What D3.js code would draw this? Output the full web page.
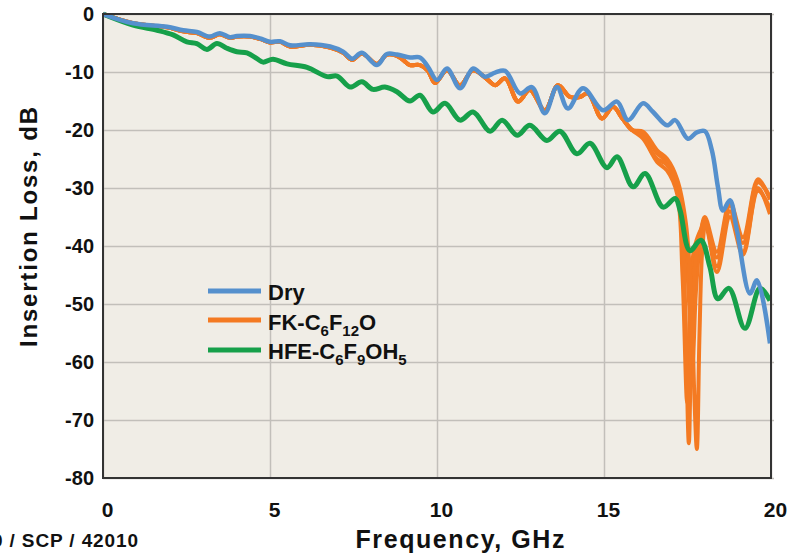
<!doctype html>
<html lang="en">
  <head>
    <meta charset="utf-8">
    <title>Insertion loss vs frequency</title>
    <script src="https://d3js.org/d3.v7.min.js"></script>
    <style>
      body { margin: 0; background: #fff; }
      text { font-family: "Liberation Sans", Arial, sans-serif; font-weight: bold; fill: #111; }
    </style>
  </head>

  <body>
    <svg width="794" height="555"></svg>

    <script>
      // data: [GHz, dB]
      var xTicks = [0, 5, 10, 15, 20];
      var yTicks = [0, -10, -20, -30, -40, -50, -60, -70, -80];

      var dry = [[0,0],[0.9,-1.6],[1.92,-2.2],[2.4,-2.8],[2.81,-3.1],[3.2,-3.9],[3.5,-3.3],[3.8,-4.0],[4.01,-3.8],
        [4.4,-3.8],[4.7,-4.2],[5.0,-4.8],[5.3,-4.7],[5.6,-5.4],[6.2,-5.2],[6.8,-5.6],[7.19,-6.5],[7.46,-7.7],
        [7.75,-6.7],[8.2,-8.8],[8.5,-6.9],[8.8,-7.0],[9.19,-7.5],[9.49,-7.5],[9.73,-9.1],[10.0,-11.4],[10.3,-9.4],
        [10.69,-12.8],[11.08,-9.4],[11.44,-10.8],[11.74,-10.1],[12.04,-9.8],[12.49,-13.7],[12.84,-12.6],[13.23,-17.1],
        [13.59,-12.6],[13.92,-16.3],[14.37,-12.8],[14.97,-16.6],[15.39,-15.1],[15.72,-18.3],[16.17,-15.4],[16.47,-16.9],
        [16.89,-19.2],[17.13,-18.3],[17.51,-21.5],[17.78,-20.4],[18.02,-20.2],[18.23,-23.5],[18.41,-29.8],[18.56,-33.9],
        [18.77,-32.1],[18.98,-37.3],[19.37,-48.2],[19.58,-45.9],[19.97,-56.8]];

      var fkBase = [[0,0],[0.9,-1.6],[1.92,-2.3],[2.4,-3.0],[2.81,-3.3],[3.2,-4.1],[3.5,-3.5],[3.8,-4.1],[4.01,-3.9],
        [4.4,-3.9],[4.7,-4.3],[5.0,-4.9],[5.3,-4.8],[5.6,-5.6],[6.2,-5.3],[6.8,-5.8],[7.19,-6.7],[7.46,-7.9],
        [7.75,-6.8],[8.2,-8.6],[8.5,-7.0],[8.8,-7.2],[9.0,-8.0],[9.19,-8.8],[9.49,-8.8],[9.73,-9.8],[9.94,-11.9],
        [10.3,-9.7],[10.69,-12.3],[11.08,-9.7],[11.53,-11.4],[11.74,-12.3],[12.04,-11.1],[12.43,-15.1],[12.78,-13.1],
        [13.23,-16.6],[13.62,-12.3],[13.98,-14.3],[14.28,-14.3],[14.52,-13.7],[14.94,-18.0],[15.27,-16.0],[15.55,-18.0],
        [15.84,-20.0]];
      var fk1 = [[16.17,-21.0],[16.4,-23.5],[16.59,-25.0],[16.89,-26.0],[17.19,-29.8],[17.35,-38],[17.45,-55],[17.54,-74],
        [17.62,-55],[17.75,-42],[17.87,-38],[18.02,-35.5],[18.38,-42.0],[18.77,-33.0],[19.16,-39.5],[19.61,-29.0],[19.97,-31.5]];
      var fk2 = [[16.17,-20.3],[16.59,-23.5],[16.89,-25.0],[17.19,-28.5],[17.45,-36],[17.62,-50],[17.7,-65],[17.78,-75],
        [17.86,-55],[17.95,-40],[18.05,-36],[18.38,-43.5],[18.77,-34.0],[19.16,-41.0],[19.61,-30.0],[19.97,-34.5]];
      var fk3 = [[16.17,-21.5],[16.59,-25.5],[16.89,-27.0],[17.19,-31.0],[17.35,-45],[17.49,-67],[17.58,-50],[17.72,-40],
        [18.02,-36.5],[18.38,-44.5],[18.77,-35.0],[19.16,-41.5],[19.61,-30.5],[19.97,-33.5]];
      var fk4 = [[16.17,-20.5],[16.59,-24.0],[16.89,-25.5],[17.19,-29.0],[17.4,-36],[17.55,-50],[17.65,-60],[17.75,-48],
        [17.9,-38],[18.02,-35.0],[18.38,-41.0],[18.77,-32.5],[19.16,-38.5],[19.61,-28.5],[19.97,-32.0]];

      var hfe = [[0,0],[0.9,-1.9],[1.62,-2.8],[2.1,-3.6],[2.51,-4.8],[2.81,-5.1],[3.11,-6.1],[3.41,-5.1],[3.71,-5.9],
        [4.01,-6.5],[4.31,-6.7],[4.61,-7.7],[4.79,-8.3],[5.09,-7.8],[5.51,-8.6],[6.11,-9.2],[6.71,-10.8],[7.01,-10.7],
        [7.4,-12.6],[7.75,-11.7],[8.08,-13.0],[8.44,-12.6],[8.8,-13.4],[9.19,-15.0],[9.49,-14.0],[9.88,-16.9],
        [10.24,-15.4],[10.69,-18.3],[11.08,-16.9],[11.59,-20.2],[11.95,-18.3],[12.4,-20.9],[12.78,-19.2],[13.29,-21.8],
        [13.68,-20.2],[14.19,-24.1],[14.58,-22.3],[15.09,-26.5],[15.39,-24.6],[15.87,-29.8],[16.23,-27.5],[16.77,-33.3],
        [17.13,-31.8],[17.28,-33.9],[17.57,-40.8],[17.9,-39.0],[18.17,-43.6],[18.41,-49.1],[18.74,-47.3],[19.22,-54.2],
        [19.67,-47.3],[19.97,-49.4]];

      var svg = d3.select('svg');
      var pLeft = 103, pRight = 771, pTop = 14, pBottom = 478;

      var x = d3.scaleLinear().domain([0, 20]).range([pLeft, pRight]);
      var y = d3.scaleLinear().domain([-80, 0]).range([pBottom, pTop]);

      svg.append('rect')
        .attr('x', pLeft).attr('y', pTop)
        .attr('width', pRight - pLeft).attr('height', pBottom - pTop)
        .style('fill', '#f0ede6');

      // grid
      var gy = svg.append('g')
        .attr('transform', 'translate(' + pLeft + ',0)')
        .call(d3.axisLeft(y).tickValues(yTicks).tickSize(-(pRight - pLeft + 3)).tickPadding(9)
          .tickFormat(function(d){ return String(d); }));
      var gx = svg.append('g')
        .attr('transform', 'translate(0,' + pBottom + ')')
        .call(d3.axisBottom(x).tickValues(xTicks).tickSize(-(pBottom - pTop)).tickPadding(24)
          .tickFormat(function(d){ return String(d); }));
      [gx, gy].forEach(function(g){
        g.select('.domain').remove();
        g.selectAll('line').style('stroke', '#c2bfba').style('stroke-width', 1.5);
        g.selectAll('text').style('fill', '#111').style('font-family', '"Liberation Sans", Arial, sans-serif');
      });
      gy.selectAll('text').style('font-size', '20px');
      gx.selectAll('text').style('font-size', '21px').attr('dx', 4);

      svg.append('defs').append('clipPath').attr('id', 'plot')
        .append('rect').attr('x', pLeft).attr('y', pTop - 4).attr('width', pRight - pLeft).attr('height', pBottom - pTop + 4);

      var line = d3.line()
        .x(function(d){ return x(d[0]); })
        .y(function(d){ return y(d[1]); })
        .curve(d3.curveCatmullRom.alpha(0.5));

      var plot = svg.append('g').attr('clip-path', 'url(#plot)');
      [fk3, fk4, fk1, fk2].forEach(function(tail){
        plot.append('path')
          .attr('d', line(fkBase.concat(tail)))
          .style('fill', 'none').style('stroke', '#f47a22').style('stroke-width', 4)
          .style('stroke-linejoin', 'round');
      });
      plot.append('path').attr('d', line(hfe))
        .style('fill', 'none').style('stroke', '#16a04a').style('stroke-width', 5).style('stroke-linejoin', 'round');
      plot.append('path').attr('d', line(dry))
        .style('fill', 'none').style('stroke', '#5590cd').style('stroke-width', 4.5).style('stroke-linejoin', 'round');

      // frame
      svg.append('rect')
        .attr('x', pLeft).attr('y', pTop)
        .attr('width', pRight - pLeft).attr('height', pBottom - pTop)
        .style('fill', 'none').style('stroke', '#333').style('stroke-width', 2);

      // legend
      var legend = [
        {name: 'Dry', color: '#5590cd', y: 291},
        {name: 'FK', color: '#f47a22', y: 320},
        {name: 'HFE', color: '#16a04a', y: 350}
      ];
      legend.forEach(function(d){
        svg.append('line')
          .attr('x1', 208).attr('x2', 261).attr('y1', d.y).attr('y2', d.y)
          .style('stroke', d.color).style('stroke-width', 5);
      });
      var l1 = svg.append('text').attr('x', 268).attr('y', 300).style('font-size', '22px');
      l1.text('Dry');
      var l2 = svg.append('text').attr('x', 268).attr('y', 330).style('font-size', '22px');
      l2.append('tspan').text('FK-C');
      l2.append('tspan').attr('dy', 6).style('font-size', '15px').text('6');
      l2.append('tspan').attr('dy', -6).text('F');
      l2.append('tspan').attr('dy', 6).style('font-size', '15px').text('12');
      l2.append('tspan').attr('dy', -6).text('O');
      var l3 = svg.append('text').attr('x', 268).attr('y', 359).style('font-size', '22px');
      l3.append('tspan').text('HFE-C');
      l3.append('tspan').attr('dy', 6).style('font-size', '15px').text('6');
      l3.append('tspan').attr('dy', -6).text('F');
      l3.append('tspan').attr('dy', 6).style('font-size', '15px').text('9');
      l3.append('tspan').attr('dy', -6).text('OH');
      l3.append('tspan').attr('dy', 6).style('font-size', '15px').text('5');

      // axis titles
      svg.append('text')
        .attr('x', 460).attr('y', 548)
        .attr('text-anchor', 'middle')
        .attr('textLength', 209)
        .style('font-size', '25px')
        .text('Frequency,  GHz');
      svg.append('text')
        .attr('transform', 'translate(37,227) rotate(-90)')
        .attr('text-anchor', 'middle')
        .attr('textLength', 240)
        .style('font-size', '24px')
        .text('Insertion  Loss,  dB');

      svg.append('text')
        .attr('x', 138).attr('y', 547)
        .attr('text-anchor', 'end')
        .attr('textLength', 146)
        .style('font-size', '19px')
        .text('0 / SCP / 42010');
    </script>
  </body>
</html>
